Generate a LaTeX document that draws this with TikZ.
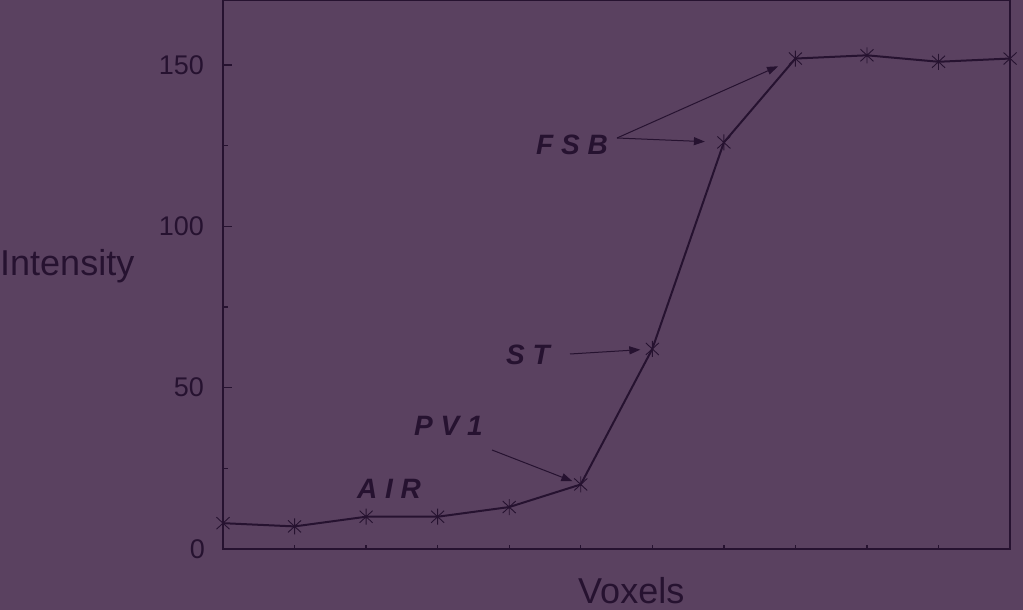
\documentclass[tikz,border=0pt]{standalone}
\usepackage{fontspec}
\setmainfont{Liberation Sans}
\usetikzlibrary{arrows.meta}
\definecolor{bgpurple}{RGB}{90,65,96}
\definecolor{ink}{RGB}{38,18,48}

\begin{document}
\begin{tikzpicture}[x=1pt,y=1pt,
  axis/.style={draw=ink,line width=1.3pt},
  curve/.style={draw=ink,line width=2pt,line join=round},
  pointer/.style={draw=ink,line width=1pt,-{Triangle[length=11pt,width=8pt]}},
  tag/.style={text=ink,font=\fontsize{28}{30}\selectfont\bfseries\itshape,inner sep=0pt,anchor=base west},
  ticklabel/.style={text=ink,font=\fontsize{27}{29}\selectfont,inner sep=0pt,anchor=east},
  title/.style={text=ink,font=\fontsize{36}{38}\selectfont,inner sep=0pt,anchor=base west},
  ast/.pic={\draw[ink,line width=0.9pt] (0pt,-8pt) -- (0pt,8pt) (-6.5pt,-6pt) -- (6.5pt,6pt) (-6.5pt,6pt) -- (6.5pt,-6pt);}]

%background
\useasboundingbox (0,0) rectangle (1023,610);
\fill[bgpurple] (0,0) rectangle (1023,610);

%plot
\begin{scope}[shift={(223,61)},x=71.55pt,y=3.2267pt]
\coordinate (p1) at (0,8);
\coordinate (p2) at (1,7);
\coordinate (p3) at (2,10);
\coordinate (p4) at (3,10);
\coordinate (p5) at (4,13);
\coordinate (p6) at (5,20);
\coordinate (p7) at (6,62);
\coordinate (p8) at (7,126);
\coordinate (p9) at (8,152);
\coordinate (p10) at (9,153);
\coordinate (p11) at (10,151);
\coordinate (p12) at (11,152);

%frame
\draw[axis] (0,0) rectangle (11,170);

%ticks
\draw[axis] (0,50) -- ++(9pt,0pt);
\draw[axis] (0,100) -- ++(9pt,0pt);
\draw[axis] (0,150) -- ++(9pt,0pt);
\draw[axis] (0,25) -- ++(5pt,0pt);
\draw[axis] (0,75) -- ++(5pt,0pt);
\draw[axis] (0,125) -- ++(5pt,0pt);
\draw[axis] (1,0) -- ++(0pt,4pt);
\draw[axis] (2,0) -- ++(0pt,4pt);
\draw[axis] (3,0) -- ++(0pt,4pt);
\draw[axis] (4,0) -- ++(0pt,4pt);
\draw[axis] (5,0) -- ++(0pt,4pt);
\draw[axis] (6,0) -- ++(0pt,4pt);
\draw[axis] (7,0) -- ++(0pt,4pt);
\draw[axis] (8,0) -- ++(0pt,4pt);
\draw[axis] (9,0) -- ++(0pt,4pt);
\draw[axis] (10,0) -- ++(0pt,4pt);

%tick labels
\node[ticklabel,xshift=-18pt] (l0) at (0,0) {0};
\node[ticklabel,xshift=-19pt] (l50) at (0,50) {50};
\node[ticklabel,xshift=-19pt] (l100) at (0,100) {100};
\node[ticklabel,xshift=-19pt] (l150) at (0,150) {150};

%curve
\draw[curve] (p1) -- (p2) -- (p3) -- (p4) -- (p5) -- (p6) -- (p7) -- (p8) -- (p9) -- (p10) -- (p11) -- (p12);

%marks
\path (p1) pic{ast};
\path (p2) pic{ast};
\path (p3) pic{ast};
\path (p4) pic{ast};
\path (p5) pic{ast};
\path (p6) pic{ast};
\path (p7) pic{ast};
\path (p8) pic{ast};
\path (p9) pic{ast};
\path (p10) pic{ast};
\path (p11) pic{ast};
\path (p12) pic{ast};
\end{scope}

%axis titles
\node[title] (ylabel) at (0,334) {Intensity};
\node[title] (xlabel) at (578,6) {Voxels};

%labels
\node[tag] (air) at (357,111) {A I R};
\node[tag] (pv) at (414,174) {P V 1};
\node[tag] (st) at (506,245) {S T};
\node[tag] (fsb) at (536,455) {F S B};

\coordinate (pvtail) at (492,160);
\coordinate (sttail) at (570,256);
\coordinate (fsbtail) at (617,472);

%arrows
\draw[pointer,shorten >=9pt] (pvtail) -- (p6);
\draw[pointer,shorten >=12pt] (sttail) -- (p7);
\draw[pointer,shorten >=19pt] (fsbtail) -- (p8);
\draw[pointer,shorten >=19pt] (fsbtail) -- (p9);
\end{tikzpicture}
\end{document}
